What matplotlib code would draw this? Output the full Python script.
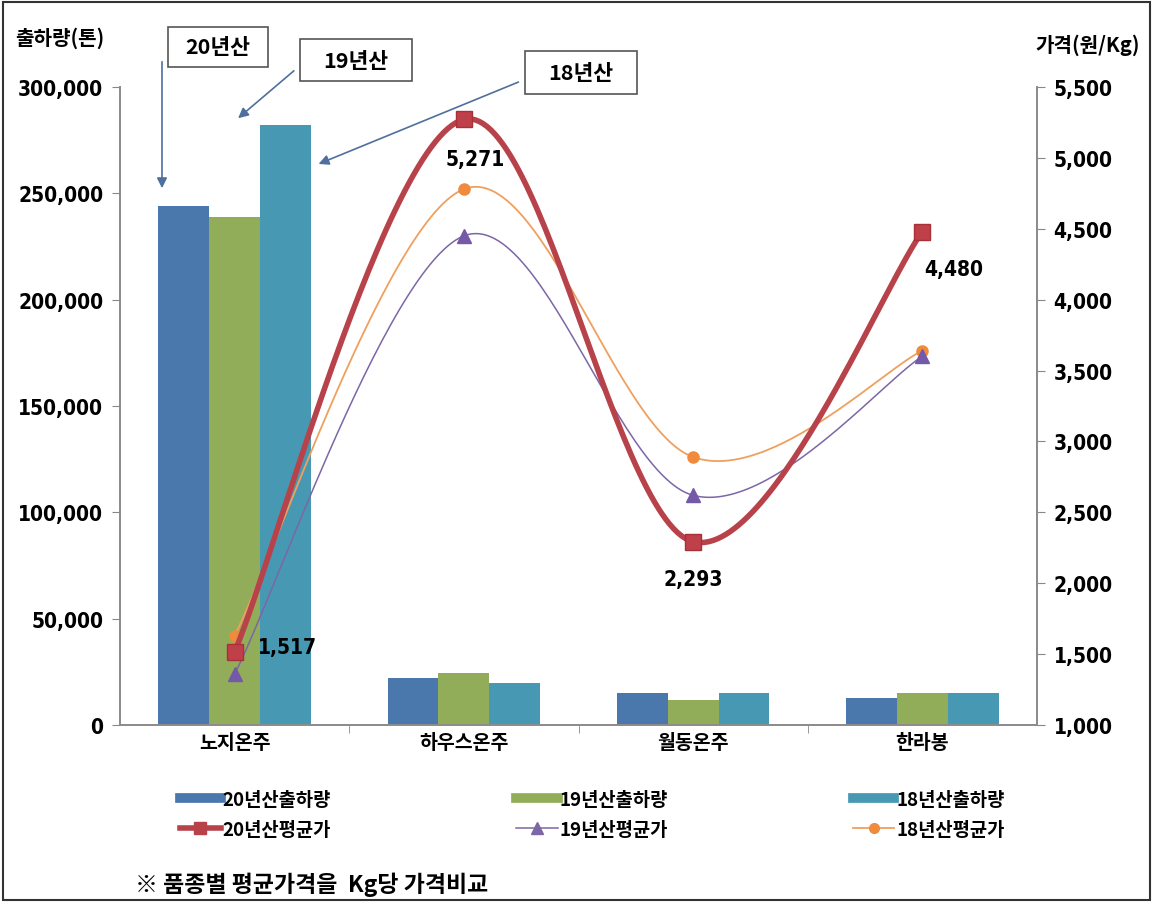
import numpy as np
import matplotlib
matplotlib.use("Agg")
import matplotlib.pyplot as plt
from matplotlib.lines import Line2D
from matplotlib.patches import Rectangle, FancyArrowPatch

plt.rcParams['font.family'] = ['Noto Sans CJK KR', 'DejaVu Sans']
NUM = dict(family=['DejaVu Sans'], stretch='condensed', weight='bold')

W, H = 1153, 904

# data
categories = ['노지온주', '하우스온주', '월동온주', '한라봉']
ship_20 = [244000, 22300, 14900, 12500]
ship_19 = [239000, 24300, 11700, 14900]
ship_18 = [282000, 19700, 14900, 14900]
price_20 = [1517, 5271, 2293, 4480]
price_19 = [1360, 4450, 2620, 3600]
price_18 = [1630, 4780, 2890, 3640]
label_20 = ['1,517', '5,271', '2,293', '4,480']

left_ticks = [0, 50000, 100000, 150000, 200000, 250000, 300000]
right_ticks = [1000, 1500, 2000, 2500, 3000, 3500, 4000, 4500, 5000, 5500]

BLUE = '#4A78AD'
GREEN = '#92AD59'
TEAL = '#4799B3'
RED = '#B8424A'
PURPLE = '#7C66A6'
ORANGE = '#EFA05E'


def smooth(xs, ys, n=60):
    # excel-like smoothed line: bezier segments through the points
    p = np.column_stack([xs, ys]).astype(float)
    ext = np.vstack([p[0], p, p[-1]])
    out = []
    t = np.linspace(0, 1, n)[:, None]
    for i in range(len(p) - 1):
        p0, p1, p2, p3 = ext[i], ext[i + 1], ext[i + 2], ext[i + 3]
        c1 = p1 + (p2 - p0) / 6
        c2 = p2 - (p3 - p1) / 6
        seg = ((1 - t) ** 3) * p1 + 3 * ((1 - t) ** 2) * t * c1 + 3 * (1 - t) * t ** 2 * c2 + t ** 3 * p2
        out.append(seg if i == 0 else seg[1:])
    out = np.vstack(out)
    return out[:, 0], out[:, 1]


def fx(x):
    return x / W


def fy(y):
    return 1 - y / H


fig = plt.figure(figsize=(W / 100, H / 100), dpi=100)
ax = fig.add_axes([fx(120), fy(726), fx(1037) - fx(120), fy(88) - fy(726)])
ax2 = ax.twinx()

x = np.arange(len(categories))
bw = 0.222
ax.bar(x - bw, ship_20, bw, color=BLUE, zorder=2)
ax.bar(x, ship_19, bw, color=GREEN, zorder=2)
ax.bar(x + bw, ship_18, bw, color=TEAL, zorder=2)
ax.set_xlim(-0.5, 3.5)
ax.set_ylim(0, 300000)
ax.set_yticks(left_ticks)
ax.set_yticklabels([f'{v:,}' for v in left_ticks], fontsize=15, **NUM)
ax.set_xticks(x)
ax.set_xticklabels(categories, fontsize=14, fontweight='bold')
ax.set_xticks([0.5, 1.5, 2.5], minor=True)
ax.tick_params(axis='x', which='major', length=0, pad=6)
ax.tick_params(axis='x', which='minor', length=6, color='#888888', direction='out')
ax.tick_params(axis='y', length=6, color='#888888', direction='out', pad=6)

for a in (ax, ax2):
    a.spines['top'].set_visible(False)
    for s in ('left', 'right', 'bottom'):
        a.spines[s].set_color('#8C8C8C')
        a.spines[s].set_linewidth(1.3)

sx, sy = smooth(x, price_18)
ax2.plot(sx, sy, color=ORANGE, lw=1.3, zorder=3)
ax2.plot(x, price_18, 'o', color='#F08A3C', ms=8, zorder=4)
sx, sy = smooth(x, price_19)
ax2.plot(sx, sy, color=PURPLE, lw=1.1, zorder=3)
ax2.plot(x, price_19, '^', color='#7459A8', ms=10, zorder=4)
sx, sy = smooth(x, price_20)
ax2.plot(sx, sy, color=RED, lw=4, zorder=5)
ax2.plot(x, price_20, 's', color='#C0404A', mec='#A83038', ms=11, zorder=6)
ax2.set_ylim(1000, 5500)
ax2.set_yticks(right_ticks)
ax2.set_yticklabels([f'{v:,}' for v in right_ticks], fontsize=15, **NUM)
ax2.tick_params(axis='y', length=6, color='#888888', direction='out', pad=6)

label_offsets = [(0.23, 33), (0.05, -279), (0.0, -263), (0.135, -264)]
for i, (dx, dy) in enumerate(label_offsets):
    ax2.text(x[i] + dx, price_20[i] + dy, label_20[i], fontsize=15,
             ha='center', va='center', zorder=7, **NUM)

# axis titles
fig.text(fx(15), fy(38), '출하량(톤)', fontsize=14.5, fontweight='bold', ha='left', va='center')
fig.text(fx(1140), fy(45), '가격(원/Kg)', fontsize=14.5, fontweight='bold', ha='right', va='center')

# legend: bars on the first row, lines on the second
handles = [
    Line2D([], [], color=BLUE, lw=7), Line2D([], [], color=RED, lw=4, marker='s', ms=9),
    Line2D([], [], color=GREEN, lw=7), Line2D([], [], color=PURPLE, lw=1.1, marker='^', ms=9),
    Line2D([], [], color=TEAL, lw=7), Line2D([], [], color=ORANGE, lw=1.3, marker='o', mfc='#F08A3C', mec='#F08A3C', ms=7),
]
labels = ['20년산출하량', '20년산평균가', '19년산출하량', '19년산평균가', '18년산출하량', '18년산평균가']
fig.legend(handles, labels, ncol=3, frameon=False, prop=dict(size=13.5, weight='bold'), loc='upper left',
           bbox_to_anchor=(fx(172), fy(784), fx(1012) - fx(172), 0.001), mode='expand',
           handlelength=2.2, handletextpad=0.1, labelspacing=0.6, borderaxespad=0)

fig.text(fx(135), fy(885), '※ 품종별 평균가격을  Kg당 가격비교', fontsize=16.5, fontweight='bold',
         ha='left', va='center')

# callout boxes with arrows
boxes = [('20년산', 168, 28, 100, 40), ('19년산', 300, 40, 112, 42), ('18년산', 525, 52, 112, 43)]
for txt, bx, by, bwid, bh in boxes:
    fig.patches.append(Rectangle((fx(bx), fy(by + bh)), bwid / W, bh / H, transform=fig.transFigure,
                                 facecolor='white', edgecolor='#555555', lw=1.2))
    fig.text(fx(bx + bwid / 2), fy(by + bh / 2), txt, fontsize=15.5, fontweight='bold', ha='center', va='center')

arrows = [((162, 60), (162, 192)), ((296, 70), (236, 121)), ((521, 82), (316, 166))]
for (x0, y0), (x1, y1) in arrows:
    fig.add_artist(FancyArrowPatch(
        (fx(x0), fy(y0)), (fx(x1), fy(y1)), transform=fig.transFigure,
        arrowstyle='-|>,head_length=6,head_width=3', color='#4F6F9C', lw=1.2))

# outer frame
fig.patches.append(Rectangle((fx(3), fy(901)), (W - 6) / W, (H - 6) / H, transform=fig.transFigure,
                             facecolor='none', edgecolor='#333333', lw=1.5))

fig.savefig('out.png', dpi=100)
